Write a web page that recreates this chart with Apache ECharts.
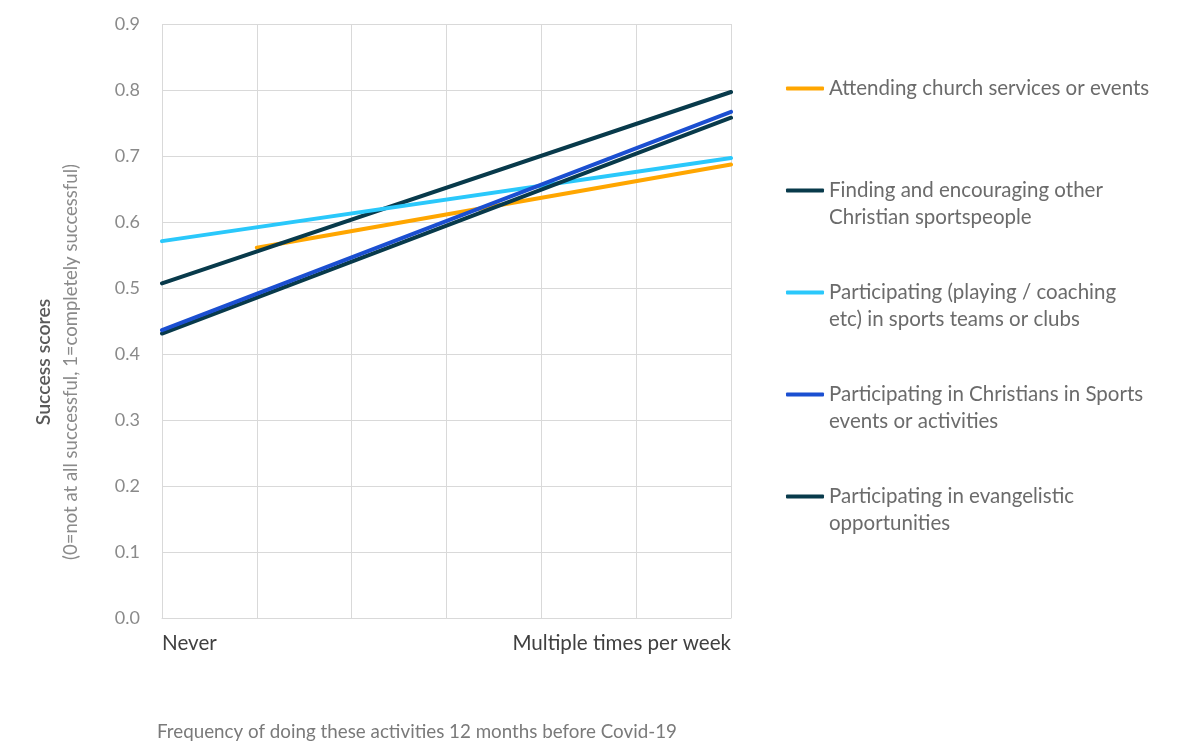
<!DOCTYPE html>
<html>
<head>
<meta charset="utf-8">
<script src="https://cdn.jsdelivr.net/npm/echarts@6/dist/echarts.min.js"></script>
<style>
  html, body { margin: 0; padding: 0; background: #fff; }
  #chart { width: 1186px; height: 744px; }
</style>
</head>
<body>
<div id="chart"></div>
<script>
// Frequency categories (only the two ends carry a label)
const freqCategories = ['Never', '', '', '', '', '', 'Multiple times per week'];

// Trend-line end points per activity; gaps are bridged with connectNulls
const attendingChurch    = [null, 0.561, null, null, null, null, 0.687];
const findingEncouraging = [0.507, null, null, null, null, null, 0.797];
const participatingTeams = [0.571, null, null, null, null, null, 0.697];
const christiansInSports = [0.436, null, null, null, null, null, 0.767];
const evangelistic       = [0.431, null, null, null, null, null, 0.758];

const seriesNames = [
  'Attending church services or events',
  'Finding and encouraging other\nChristian sportspeople',
  'Participating (playing / coaching\netc) in sports teams or clubs',
  'Participating in Christians in Sports\nevents or activities',
  'Participating in evangelistic\nopportunities'
];
const seriesColors = ['#ffa600', '#083a4b', '#2ac8fb', '#1b4fd1', '#083a4b'];
const seriesData = [attendingChurch, findingEncouraging, participatingTeams, christiansInSports, evangelistic];
// drawing order: the Christians in Sports line sits on top
const seriesZ = [2, 3, 4, 6, 5];

const yTicks = { min: 0, max: 0.9, interval: 0.1 };

const FONT = 'Lato, "Noto Sans", sans-serif';
const GRID = '#d9d9d9';

// Legend entries are padded to three lines so the key line sits beside the first line
function legendLabel(name) {
  const lines = name.split('\n');
  return lines.length > 1 ? ' \n' + lines.join('\n') : ' \n' + lines[0] + '\n ';
}

const chart = echarts.init(document.getElementById('chart'), null, { renderer: 'canvas' });

chart.setOption({
  backgroundColor: '#ffffff',
  animation: false,
  textStyle: { fontFamily: FONT },
  grid: { left: 162, right: 455, top: 24, bottom: 126, containLabel: false },
  xAxis: {
    type: 'category',
    data: freqCategories,
    boundaryGap: false,
    axisLine: { show: true, lineStyle: { color: GRID, width: 1 } },
    axisTick: { show: false },
    splitLine: { show: true, lineStyle: { color: GRID, width: 1 } },
    axisLabel: {
      interval: 0,
      margin: 15,
      color: '#404040',
      fontSize: 20.6,
      fontFamily: FONT,
      alignMinLabel: 'left',
      alignMaxLabel: 'right'
    }
  },
  yAxis: {
    type: 'value',
    min: yTicks.min,
    max: yTicks.max,
    interval: yTicks.interval,
    axisLine: { show: false },
    axisTick: { show: false },
    splitLine: { show: true, lineStyle: { color: GRID, width: 1 } },
    axisLabel: {
      margin: 22,
      color: '#8a8a8a',
      fontSize: 18,
      fontFamily: FONT,
      formatter: v => v.toFixed(1)
    }
  },
  legend: {
    orient: 'vertical',
    left: 786,
    top: 48,
    padding: 0,
    itemWidth: 38,
    itemHeight: 4,
    itemGap: 21,
    icon: 'roundRect',
    formatter: legendLabel,
    textStyle: { fontSize: 20.5, lineHeight: 27, color: '#6b6b6b', fontFamily: FONT },
    data: seriesNames
  },
  graphic: [
    {
      type: 'text',
      x: 44, y: 362,
      rotation: Math.PI / 2,
      style: {
        text: 'Success scores',
        fontSize: 19.5, fontWeight: 600, fill: '#595959', fontFamily: FONT,
        align: 'center', verticalAlign: 'middle'
      }
    },
    {
      type: 'text',
      x: 71, y: 362,
      rotation: Math.PI / 2,
      style: {
        text: '(0=not at all successful, 1=completely successful)',
        fontSize: 18.5, fill: '#8a8a8a', fontFamily: FONT,
        align: 'center', verticalAlign: 'middle'
      }
    },
    {
      type: 'text',
      x: 157, y: 732,
      style: {
        text: 'Frequency of doing these activities 12 months before Covid-19',
        fontSize: 18.8, fill: '#7a7a7a', fontFamily: FONT,
        align: 'left', verticalAlign: 'middle'
      }
    }
  ],
  series: seriesNames.map((name, i) => ({
    name: name,
    type: 'line',
    data: seriesData[i],
    connectNulls: true,
    symbol: 'none',
    color: seriesColors[i],
    lineStyle: { width: 4, color: seriesColors[i], cap: 'round' },
    z: seriesZ[i]
  }))
});
</script>
</body>
</html>
